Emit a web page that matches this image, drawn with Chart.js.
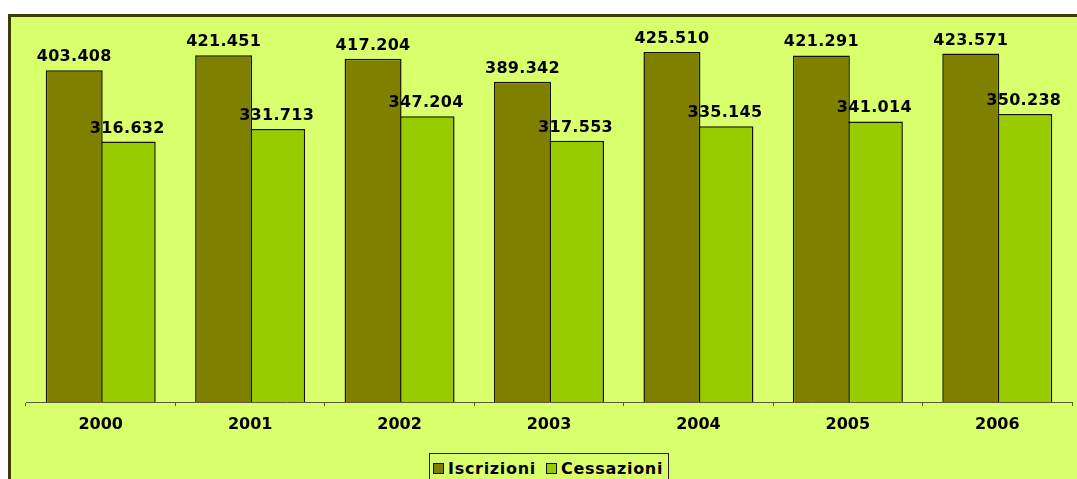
<!DOCTYPE html>
<html>
<head>
<meta charset="utf-8">
<script src="https://cdn.jsdelivr.net/npm/chart.js@4.4.1/dist/chart.umd.min.js"></script>
<style>
  body { margin: 0; background: #fff; width: 1077px; height: 479px; overflow: hidden; position: relative; }
  #frame { position: absolute; left: 8px; top: 14px; width: 1100px; height: 500px;
           background: #DAFF6C; border-left: 3px solid #3D3A08; border-top: 3px solid #3D3A08; }
  #wrap { position: absolute; left: 0; top: 0; width: 1077px; height: 479px; }
  #legend { position: absolute; left: 429px; top: 453px; width: 238px; height: 40px;
            border: 1.5px solid #222; background: #DAFF6C;
            font: bold 16px "DejaVu Sans", Verdana, sans-serif; color: #000; letter-spacing: 0.7px; }
  #legend span.item { position: absolute; top: 5px; white-space: nowrap; }
  #legend i { display: inline-block; width: 9px; height: 9px; border: 1.5px solid #111;
              margin-right: 4px; vertical-align: 0px; }
</style>
</head>
<body>
<div id="frame"></div>
<div id="wrap"><canvas id="chart" width="1077" height="479"></canvas></div>
<div id="legend">
  <span class="item" style="left:3px"><i style="background:#808000"></i>Iscrizioni</span>
  <span class="item" style="left:116px"><i style="background:#99CC00"></i>Cessazioni</span>
</div>
<script>
const anni = ['2000', '2001', '2002', '2003', '2004', '2005', '2006'];
const iscrizioni = [403408, 421451, 417204, 389342, 425510, 421291, 423571];
const cessazioni = [316632, 331713, 347204, 317553, 335145, 341014, 350238];

const fontFamily = '"DejaVu Sans", Verdana, sans-serif';

// etichette con il valore sopra ogni barra, separatore delle migliaia col punto
const valoriSopra = {
  id: 'valoriSopra',
  afterDatasetsDraw(chart) {
    const ctx = chart.ctx;
    ctx.save();
    ctx.font = 'bold 16px ' + fontFamily;
    ctx.fillStyle = '#000';
    ctx.textAlign = 'center';
    ctx.textBaseline = 'alphabetic';
    ctx.letterSpacing = '0.3px';
    chart.data.datasets.forEach((ds, i) => {
      chart.getDatasetMeta(i).data.forEach((bar, j) => {
        const txt = ds.data[j].toLocaleString('it-IT');
        ctx.fillText(txt, bar.x, bar.y - 9);
      });
    });
    ctx.restore();
  }
};

new Chart(document.getElementById('chart'), {
  type: 'bar',
  data: {
    labels: anni,
    datasets: [
      {
        label: 'Iscrizioni',
        data: iscrizioni,
        backgroundColor: '#808000',
        borderColor: '#111100',
        borderWidth: 1.5,
        categoryPercentage: 0.7095,
        barPercentage: 1.075
      },
      {
        label: 'Cessazioni',
        data: cessazioni,
        backgroundColor: '#99CC00',
        borderColor: '#111100',
        borderWidth: 1.5,
        categoryPercentage: 0.7095,
        barPercentage: 1.075
      }
    ]
  },
  options: {
    responsive: false,
    animation: false,
    layout: { padding: { left: 26, right: 5, top: 17, bottom: 0 } },
    plugins: {
      legend: { display: false },
      tooltip: { enabled: false }
    },
    scales: {
      x: {
        grid: { display: true, drawOnChartArea: false, drawTicks: true, tickLength: 4, color: '#5A5A3A', offset: true },
        border: { display: true, color: '#5A5A3A', width: 1 },
        ticks: { color: '#000', padding: 9, font: { family: fontFamily, size: 16, weight: 'bold' } },
        afterFit: s => { s.height = 77; }
      },
      y: {
        display: false,
        min: 0,
        max: 468000
      }
    }
  },
  plugins: [valoriSopra]
});
</script>
</body>
</html>
